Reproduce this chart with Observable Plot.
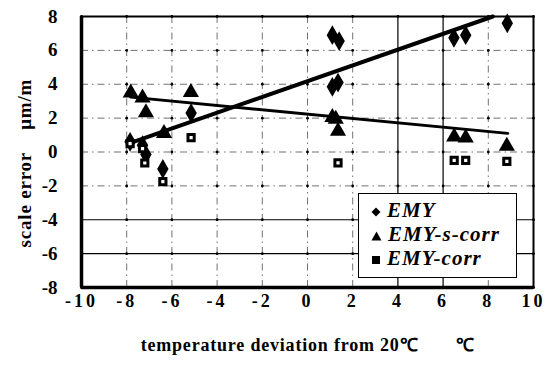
<!DOCTYPE html>
<html>
<head>
<meta charset="utf-8">
<script src="https://cdn.jsdelivr.net/npm/d3@7"></script>
<script src="https://cdn.jsdelivr.net/npm/@observablehq/plot@0.6"></script>
<style>
  html, body { margin: 0; padding: 0; background: #fff; }
  #chart { position: relative; width: 546px; height: 376px; }
  #chart svg, #chart svg text { font-family: "Liberation Serif", "Times New Roman", serif !important; font-weight: bold; }
  g[aria-label="x-axis tick label"] text { letter-spacing: 3px; }
  g[aria-label="text"] text, g[aria-label="y-axis label"] text { letter-spacing: 0.8px; }
  .legend {
    position: absolute; left: 358px; top: 193px; width: 159px; height: 85px;
    background: #fff; border: 1px solid #000; box-sizing: border-box;
    font-family: "Liberation Serif", "Times New Roman", serif;
    font-weight: bold; font-style: italic; font-size: 21px; letter-spacing: 1px;
  }
  .legend .row { position: absolute; left: 12px; height: 24px; line-height: 24px; white-space: nowrap; }
  .legend svg { vertical-align: middle; margin-right: 6px; }
</style>
</head>
<body>
<div id="chart"></div>
<script>
// Axis ticks
const xTicks = [-10, -8, -6, -4, -2, 0, 2, 4, 6, 8, 10];
const yTicks = [-8, -6, -4, -2, 0, 2, 4, 6, 8];
const solidX = [4, 6];
const solidY = [-4, -6];

// EMY: uncorrected scale error (µm/m) vs temperature deviation (°C)
const emyX = [-7.85, -7.3, -7.15, -6.4, -5.15, 1.1, 1.4, 1.1, 1.35, 6.48, 7.0, 8.84];
const emyY = [0.6, 0.4, -0.15, -1.0, 2.3, 6.9, 6.55, 3.85, 4.1, 6.74, 6.9, 7.6];

// EMY-s-corr
const sCorrX = [-7.82, -7.3, -7.15, -6.35, -5.16, 1.1, 1.25, 1.35, 6.49, 7.0, 8.82];
const sCorrY = [3.5, 3.2, 2.33, 1.1, 3.52, 2.05, 1.95, 1.24, 0.9, 0.84, 0.35];

// EMY-corr
const corrX = [-7.85, -7.3, -7.2, -6.4, -5.15, 1.35, 6.49, 7.0, 8.82];
const corrY = [0.5, 0.2, -0.65, -1.75, 0.85, -0.64, -0.49, -0.49, -0.55];

// Trend lines (end points)
const emyFitX = [-7.7, 8.2];
const emyFitY = [0.6, 8.0];
const sCorrFitX = [-7.82, 8.86];
const sCorrFitY = [3.24, 1.1];

const seriesNames = ["EMY", "EMY-s-corr", "EMY-corr"];
const xTitle = "temperature deviation from 20\u2103\u00a0\u00a0\u00a0\u00a0\u00a0\u00a0\u00a0\u2103";
const yTitle = "scale error\u00a0\u00a0\u00a0\u00a0\u03bcm/m\u00a0\u00a0\u00a0\u00a0";

const pts = (xs, ys) => xs.map((x, i) => ({x, y: ys[i]}));
const emy = pts(emyX, emyY);
const sCorr = pts(sCorrX, sCorrY);
const corr = pts(corrX, corrY);
const emyFit = pts(emyFitX, emyFitY);
const sCorrFit = pts(sCorrFitX, sCorrFitY);
const gridDots = d3.cross(xTicks, yTicks).map(([x, y]) => ({x, y}));

const dashDot = "7,4,1.5,4";
const serif = "Liberation Serif, Times New Roman, serif";
const plain = d => String(d); // hyphen-minus, as printed

const chart = Plot.plot({
  width: 546,
  height: 376,
  marginLeft: 81,
  marginRight: 13,
  marginTop: 16,
  marginBottom: 89,
  style: {fontFamily: serif, fontWeight: "bold", background: "#fff"},
  x: {domain: [-10, 10]},
  y: {domain: [-8, 8]},
  marks: [
    Plot.ruleX(xTicks.filter(d => !solidX.includes(d)), {stroke: "#000", strokeWidth: 0.8, strokeDasharray: dashDot, strokeOpacity: 0.7}),
    Plot.ruleY(yTicks.filter(d => !solidY.includes(d)), {stroke: "#000", strokeWidth: 0.8, strokeDasharray: dashDot, strokeOpacity: 0.7}),
    Plot.ruleX(solidX, {stroke: "#000", strokeWidth: 1.2}),
    Plot.ruleY(solidY, {stroke: "#000", strokeWidth: 1.2}),
    Plot.dot(gridDots, {x: "x", y: "y", r: 1.4, fill: "#000"}),
    Plot.frame({stroke: "#000", strokeWidth: 2}),
    Plot.ruleX([-10], {stroke: "#000", strokeWidth: 3.5}),
    Plot.ruleY([-8], {stroke: "#000", strokeWidth: 3.5}),
    Plot.line(emyFit, {x: "x", y: "y", stroke: "#000", strokeWidth: 4}),
    Plot.line(sCorrFit, {x: "x", y: "y", stroke: "#000", strokeWidth: 3}),
    Plot.dot(emy, {x: "x", y: "y", symbol: "diamond", r: 6, fill: "#000"}),
    Plot.dot(sCorr, {x: "x", y: "y", symbol: "triangle", r: 6, fill: "#000"}),
    Plot.dot(corr, {x: "x", y: "y", symbol: "square", r: 3.5, fill: "#fff", stroke: "#000", strokeWidth: 3}),
    Plot.axisX(xTicks, {tickSize: 0, tickPadding: 7, fontSize: 18, fontWeight: "bold", fontFamily: serif, tickFormat: plain, label: null}),
    Plot.axisY(yTicks, {
      tickSize: 0, tickPadding: 24, fontSize: 19, fontWeight: "bold", fontFamily: serif, tickFormat: plain,
      label: yTitle, labelAnchor: "center", labelArrow: "none", labelOffset: 64
    }),
    Plot.text([xTitle], {
      text: d => d, frameAnchor: "bottom", dy: 63, fontSize: 18, fontWeight: "bold", fontFamily: serif
    })
  ]
});

const root = document.getElementById("chart");
root.appendChild(chart);

// Legend box drawn over the lower right of the plot area
const symbols = {
  "EMY": '<svg width="10" height="10"><path d="M5 0.5 L9.5 5 L5 9.5 L0.5 5 Z" fill="#000"/></svg>',
  "EMY-s-corr": '<svg width="11" height="10"><path d="M5.5 0.5 L10.5 9.5 L0.5 9.5 Z" fill="#000"/></svg>',
  "EMY-corr": '<svg width="10" height="10"><rect x="1" y="1" width="8" height="8" fill="#000"/></svg>'
};
const legend = document.createElement("div");
legend.className = "legend";
seriesNames.forEach((name, i) => {
  const row = document.createElement("div");
  row.className = "row";
  row.style.top = (4 + i * 24) + "px";
  row.innerHTML = symbols[name] + name;
  legend.appendChild(row);
});
root.appendChild(legend);
</script>
</body>
</html>
